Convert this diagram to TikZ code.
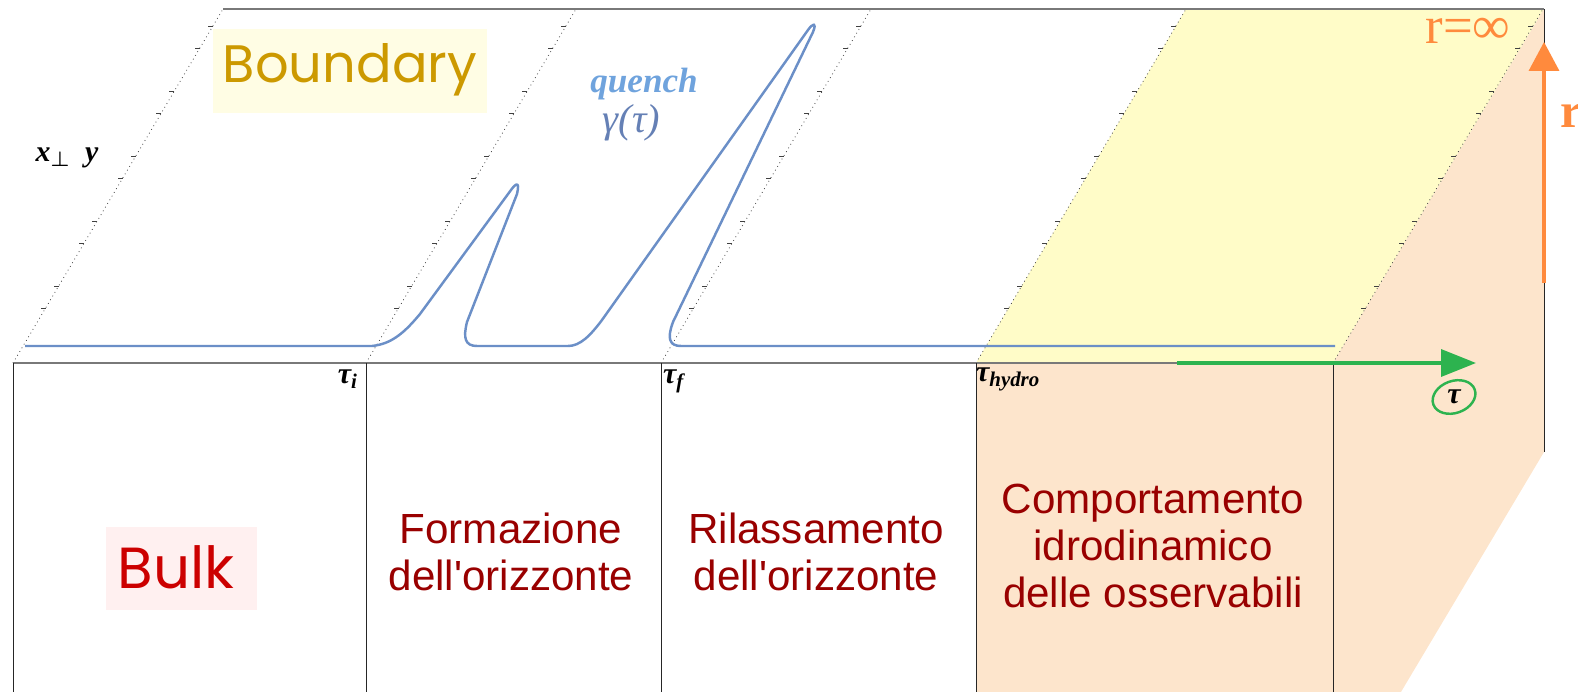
\documentclass[tikz,border=0pt]{standalone}
\usepackage{fontspec}
\usepackage{amsmath}
\usetikzlibrary{arrows.meta, positioning}
\newfontfamily\mmafont{Liberation Serif}
\newfontfamily\arialfont{Liberation Sans}
\newfontfamily\handfont{Poppins}

\definecolor{topyellow}{HTML}{FFFCC8}
\definecolor{bulkpeach}{HTML}{FDE5CC}
\definecolor{boxyellow}{HTML}{FFFDE4}
\definecolor{boxpink}{HTML}{FFF0F0}
\definecolor{quenchblue}{HTML}{6B8FC7}
\definecolor{labelblue}{HTML}{6FA3DD}
\definecolor{gammablue}{HTML}{6580B5}
\definecolor{phasered}{HTML}{990000}
\definecolor{boundgold}{HTML}{CC9900}
\definecolor{bulkred}{HTML}{CC0000}
\definecolor{rorange}{HTML}{FF8A3D}
\definecolor{taugreen}{HTML}{2DB34F}

\begin{document}
\begin{tikzpicture}[x=0.02cm, y=-0.02cm,
  edge/.style={draw=gray!95!black, line width=1.1pt},
  cut/.style={draw=black!85, line width=0.5pt},
  slant/.style={draw=black!75, dotted, line width=0.45pt},
  tickmark/.style={draw=black!75, line width=0.4pt},
  quench/.style={draw=quenchblue, line width=1.4pt, line join=round},
  phase/.style={font=\arialfont\fontsize{24}{27}\selectfont, text=phasered, align=center},
  hand/.style={font=\handfont\fontsize{30}{34}\selectfont, inner sep=0pt},
  mma/.style={font=\mmafont\bfseries\itshape\fontsize{17}{20}\selectfont, inner sep=1pt},
  axarr/.style={line width=2pt}
]

  % 0. Frame
  \useasboundingbox (0,0) rectangle (1578,692);
  \clip (0,0) rectangle (1578,692);

  % 1. Coloured faces
  \fill[topyellow] (976,363) -- (1333,363) -- (1544,9) -- (1186,9) -- cycle;
  \fill[bulkpeach] (976,363) rectangle (1333,700);
  \fill[bulkpeach] (1333,363) -- (1544,9) -- (1544,452) -- (1333,806) -- cycle;

  % Highlight boxes
  \fill[boxyellow] (213,29) rectangle (487,113);
  \fill[boxpink] (106,527) rectangle (257,610);

  % 2. Slanted axes with ticks
  \foreach \x in {13,366,661,976,1333} {
    \draw[slant] (\x,363) -- ++(210,-354);
    \foreach \ty in {26,48,91,113,156,178,221,243,286,308} {
      \draw[tickmark] ({\x+(363-\ty)/354*210},\ty) -- ++(-5,0);
    }
  }

  % 3. Box edges
  \draw[edge] (223,9) -- (1544,9);
  \draw[edge] (13,363) -- (1333,363);
  \foreach \x in {13,366,661,976,1333} {
    \draw[cut] (\x,363) -- (\x,700);
  }
  \draw[cut] (1544,9) -- (1544,452);

  % 4. Quench profile
  \draw[quench] (25,346) -- (372,346)
    .. controls (392,344) and (405,332) .. (420,314)
    -- (511,190) .. controls (516,183) and (520,181) .. (517,194)
    -- (467,322) .. controls (463,338) and (465,346) .. (477,346)
    -- (568,346) .. controls (580,346) and (590,336) .. (602,320)
    -- (808,30) .. controls (813,23) and (817,22) .. (813,32)
    -- (673,322) .. controls (667,338) and (669,346) .. (681,346)
    -- (1335,346);

  \node[font=\mmafont\bfseries\itshape\fontsize{20}{22}\selectfont, text=labelblue, inner sep=0pt] (quenchlbl) at (644,84) {quench};
  \node[font=\mmafont\itshape\fontsize{23}{25}\selectfont, text=gammablue, inner sep=0pt, below=2pt of quenchlbl.south, xshift=-0.25cm] (gammalbl) {γ(τ)};

  % 5. Region labels
  \node[hand, text=boundgold] (boundary) at (350,70) {Boundary};
  \node[hand, text=bulkred, font=\handfont\fontsize{33}{36}\selectfont] (bulk) at (176,567) {Bulk};
  \node[phase] (formaz) at (511,552) {Formazione\\dell'orizzonte};
  \node[phase] (rilass) at (816,552) {Rilassamento\\dell'orizzonte};
  \node[phase] (comport) at (1153,546) {Comportamento\\idrodinamico\\delle osservabili};

  % 6. Axis labels
  \node[mma] (xylbl) at (67,158) {x{\boldmath$_{\perp}$}\ \ y};
  \node[mma, anchor=north east] (taui) at (360,368) {τ\textsubscript{\itshape i}};
  \node[mma, anchor=north west] (tauf) at (661,368) {τ\textsubscript{\itshape f}};
  \node[mma, anchor=north west] (tauhydro) at (974,366) {τ\textsubscript{\itshape hydro}};

  % 7. tau axis
  \coordinate (tstart) at (1177,363);
  \coordinate (tend) at (1476,363);
  \draw[axarr, draw=taugreen, -{Triangle[length=0.7cm, width=0.54cm]}] (tstart) -- (tend);
  \node[mma] (taulbl) at (1454,397) {τ};
  \draw[taugreen, line width=1.4pt, rotate around={20:(taulbl.center)}] (taulbl.center) ellipse [x radius=22, y radius=16];

  % 8. r axis
  \coordinate (rstart) at (1544,283);
  \coordinate (rend) at (1544,42);
  \draw[axarr, draw=rorange, -{Triangle[length=0.58cm, width=0.6cm]}] (rstart) -- (rend);
  \node[font=\mmafont\fontsize{30}{34}\selectfont, text=rorange, inner sep=0pt] (rinf) at (1468,31) {r=∞};
  \node[font=\mmafont\bfseries\fontsize{28}{30}\selectfont, text=rorange, inner sep=0pt, anchor=west] (rlbl) at (1560,116) {r};

\end{tikzpicture}
\end{document}
